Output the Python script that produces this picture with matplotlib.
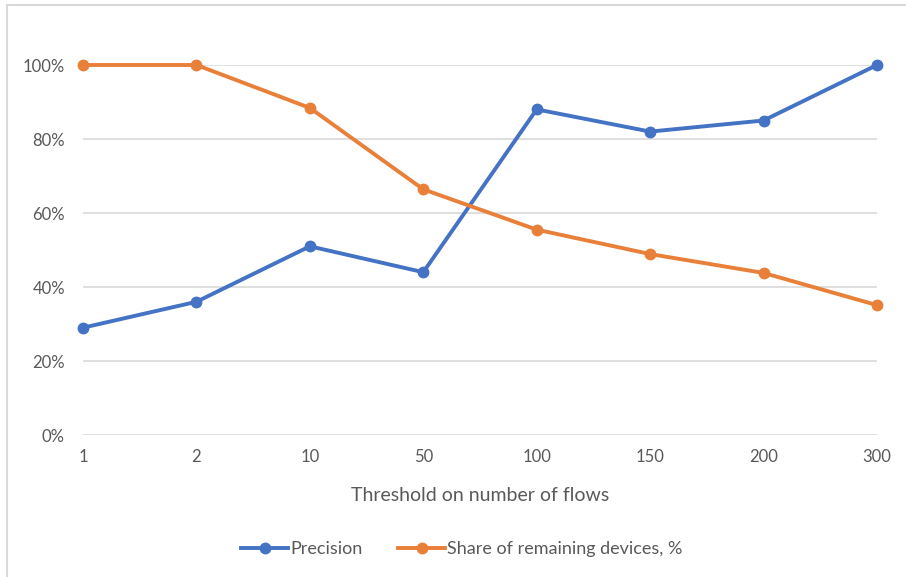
import matplotlib.pyplot as plt
from matplotlib.lines import Line2D
from matplotlib.ticker import PercentFormatter

# Threshold categories and the two series (fractions)
thresholds = ['1', '2', '10', '50', '100', '150', '200', '300']
precision = [0.29, 0.36, 0.51, 0.44, 0.88, 0.82, 0.85, 1.00]
share_remaining = [1.00, 1.00, 0.884, 0.664, 0.555, 0.489, 0.438, 0.351]

plt.rcParams['font.family'] = ['Lato', 'DejaVu Sans']
text_col = '#595959'

fig = plt.figure(figsize=(9.06, 5.77), dpi=100)
ax = fig.add_axes([83 / 906, 1 - 435 / 577, 794 / 906, 370 / 577])

x = range(len(thresholds))
ax.plot(x, precision, color='#4472C4', lw=2.8, marker='o', ms=7.5,
        label='Precision', clip_on=False, zorder=3)
ax.plot(x, share_remaining, color='#E8803A', lw=2.8, marker='o', ms=7.5,
        label='Share of remaining devices, %', clip_on=False, zorder=3)

ax.set_xlim(0, len(thresholds) - 1)
ax.set_ylim(0, 1.0)
ax.set_yticks([0, 0.2, 0.4, 0.6, 0.8, 1.0])
ax.yaxis.set_major_formatter(PercentFormatter(1.0, decimals=0))
ax.set_xticks(list(x))
ax.set_xticklabels(thresholds)
ax.grid(axis='y', color='#D9D9D9', lw=1.2)
ax.set_axisbelow(True)
for s in ax.spines.values():
    s.set_visible(False)
ax.tick_params(length=0, labelsize=12, colors=text_col)
ax.tick_params(axis='y', pad=13)
ax.tick_params(axis='x', pad=10)
ax.set_xlabel('Threshold on number of flows', fontsize=14, color=text_col, labelpad=16)

leg = fig.legend(loc='center', bbox_to_anchor=(462 / 906, 1 - 549 / 577), ncol=2,
                 frameon=False, fontsize=13, handlelength=2.6, handletextpad=0.1,
                 columnspacing=2.0)
for t in leg.get_texts():
    t.set_color(text_col)

# thin frame lines along the top and left edge
fig.add_artist(Line2D([7 / 906, 1], [1 - 5 / 577, 1 - 5 / 577],
                      transform=fig.transFigure, color='#D9D9D9', lw=1.5))
fig.add_artist(Line2D([7 / 906, 7 / 906], [0, 1 - 5 / 577],
                      transform=fig.transFigure, color='#D9D9D9', lw=1.5))

fig.savefig('out.png', dpi=100)
